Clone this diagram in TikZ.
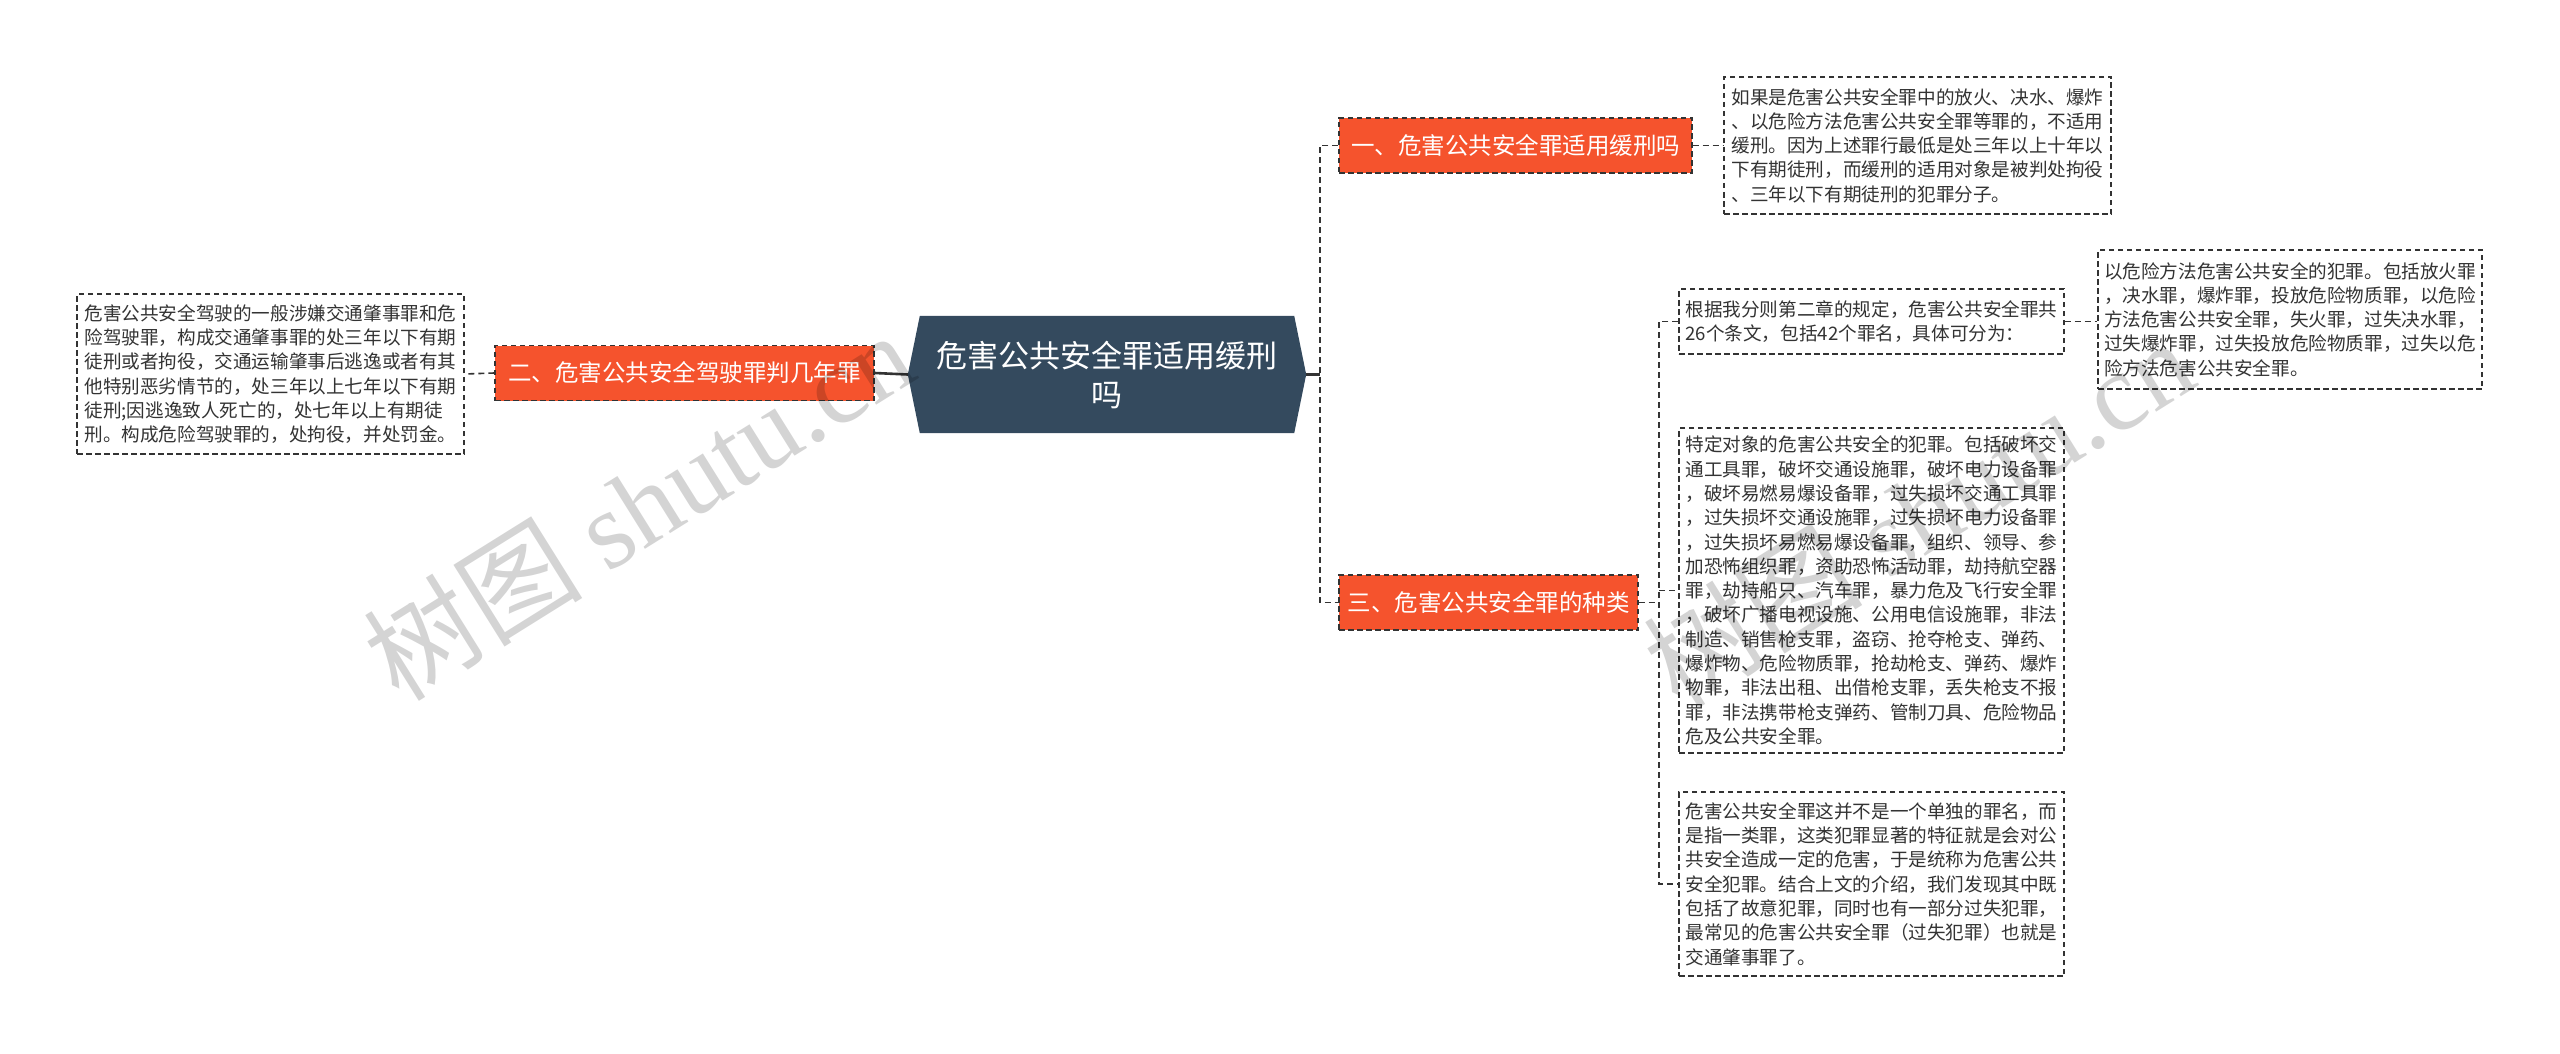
\documentclass[tikz,border=0pt]{standalone}
\usepackage{fontspec}
\setmainfont{Noto Sans CJK SC}
\newfontfamily\wmlatin{Liberation Serif}
\usetikzlibrary{backgrounds}
\definecolor{orangebr}{HTML}{F5532D}
\definecolor{centralc}{HTML}{344A5E}
\definecolor{linec}{HTML}{333333}
\definecolor{textc}{HTML}{333333}
\begin{document}
\begin{tikzpicture}[x=1pt,y=-1pt,
  leaf/.style={draw=linec, fill=white, line width=1.4pt, dash pattern=on 5.5pt off 3.5pt,
    align=left, text=textc, inner sep=0pt, font=\fontsize{18.6}{24.3}\selectfont},
  branch/.style={draw=linec, fill=orangebr, line width=1.4pt, dash pattern=on 5.5pt off 3.5pt,
    text=white, inner sep=0pt, minimum height=55, font=\fontsize{23.5}{28}\selectfont},
  conn/.style={draw=linec, line width=1.6pt, dash pattern=on 6pt off 4pt},
  trunk/.style={draw=linec, line width=2.6pt},
  wmark/.style={text=black, opacity=0.17, rotate=32, inner sep=0pt, font=\fontsize{110}{110}\selectfont}
]
\path[use as bounding box] (0,0) rectangle (2560,1054);

% central node
\node[text=white, align=center, inner sep=0pt, minimum width=398, minimum height=117,
  font=\fontsize{31}{39}\selectfont] (c) at (1107,374.5) {危害公共安全罪适用缓刑\\吗};
\begin{scope}[on background layer]
\fill[centralc] ([xshift=12pt]c.north west) -- ([xshift=-12pt]c.north east) -- (c.east)
  -- ([xshift=-12pt]c.south east) -- ([xshift=12pt]c.south west) -- (c.west) -- cycle;
\end{scope}

% branches
\node[branch, minimum width=379] (b2) at (684.5,373) {二、危害公共安全驾驶罪判几年罪};
\node[branch, minimum width=353] (b1) at (1515.5,145.5) {一、危害公共安全罪适用缓刑吗};
\node[branch, minimum width=299] (b3) at (1488.5,602.5) {三、危害公共安全罪的种类};

% leaves
\node[leaf, minimum width=387, minimum height=160] (ll) at (270.5,374) {危害公共安全驾驶的一般涉嫌交通肇事罪和危\\险驾驶罪，构成交通肇事罪的处三年以下有期\\徒刑或者拘役，交通运输肇事后逃逸或者有其\\他特别恶劣情节的，处三年以上七年以下有期\\徒刑;因逃逸致人死亡的，处七年以上有期徒\\刑。构成危险驾驶罪的，处拘役，并处罚金。};
\node[leaf, minimum width=387, minimum height=137] (l1) at (1917.5,145.5) {如果是危害公共安全罪中的放火、决水、爆炸\\、以危险方法危害公共安全罪等罪的，不适用\\缓刑。因为上述罪行最低是处三年以上十年以\\下有期徒刑，而缓刑的适用对象是被判处拘役\\、三年以下有期徒刑的犯罪分子。};
\node[leaf, minimum width=385, minimum height=65] (sa) at (1871.5,321.5) {根据我分则第二章的规定，危害公共安全罪共\\26个条文，包括42个罪名，具体可分为：};
\node[leaf, minimum width=384, minimum height=139] (ss) at (2290,319.5) {以危险方法危害公共安全的犯罪。包括放火罪\\，决水罪，爆炸罪，投放危险物质罪，以危险\\方法危害公共安全罪，失火罪，过失决水罪，\\过失爆炸罪，过失投放危险物质罪，过失以危\\险方法危害公共安全罪。};
\node[leaf, minimum width=385, minimum height=325] (lb) at (1871.5,590.5) {特定对象的危害公共安全的犯罪。包括破坏交\\通工具罪，破坏交通设施罪，破坏电力设备罪\\，破坏易燃易爆设备罪，过失损坏交通工具罪\\，过失损坏交通设施罪，过失损坏电力设备罪\\，过失损坏易燃易爆设备罪，组织、领导、参\\加恐怖组织罪，资助恐怖活动罪，劫持航空器\\罪，劫持船只、汽车罪，暴力危及飞行安全罪\\，破坏广播电视设施、公用电信设施罪，非法\\制造、销售枪支罪，盗窃、抢夺枪支、弹药、\\爆炸物、危险物质罪，抢劫枪支、弹药、爆炸\\物罪，非法出租、出借枪支罪，丢失枪支不报\\罪，非法携带枪支弹药、管制刀具、危险物品\\危及公共安全罪。};
\node[leaf, minimum width=385, minimum height=184] (lc) at (1871.5,884) {危害公共安全罪这并不是一个单独的罪名，而\\是指一类罪，这类犯罪显著的特征就是会对公\\共安全造成一定的危害，于是统称为危害公共\\安全犯罪。结合上文的介绍，我们发现其中既\\包括了故意犯罪，同时也有一部分过失犯罪，\\最常见的危害公共安全罪（过失犯罪）也就是\\交通肇事罪了。};

% connectors
\coordinate (tr) at (1320,374.5);
\coordinate (t3) at (1659,602.5);
\draw[trunk] (c.west) -- (b2.east);
\draw[trunk] (c.east) -- (tr);
\draw[conn] (b2.west) -- (ll.east);
\draw[conn] (b1.west) -- (b1.west -| tr) -- (b3.west -| tr) -- (b3.west);
\draw[conn] (b1.east) -- (l1.west);
\draw[conn] (b3.east) -- (t3);
\draw[conn] (sa.west) -- (sa.west -| t3) -- (lc.west -| t3) -- (lc.west);
\draw[conn] (lb.west -| t3) -- (lb.west);
\draw[conn] (sa.east) -- (sa.east -| ss.west);

% watermarks
\node[wmark] (wm1) at (638,505) {树图 {\wmlatin shutu.cn}};
\node[wmark] (wm2) at (1918,512) {树图 {\wmlatin shutu.cn}};
\end{tikzpicture}
\end{document}
